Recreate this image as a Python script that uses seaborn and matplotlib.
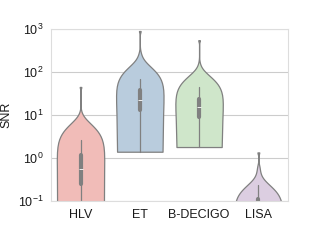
import matplotlib
matplotlib.use("Agg")
import matplotlib.pyplot as plt
import seaborn as sns
import pandas as pd

detectors = ['HLV', 'ET', 'B-DECIGO', 'LISA']

snr_hlv = [0.01, 0.03, 0.05, 0.07, 0.09, 0.12, 0.15, 0.2, 0.25,
           0.29, 0.33, 0.37, 0.41, 0.45, 0.49, 0.52, 0.55,
           0.6, 0.66, 0.72, 0.8, 0.88, 0.96, 1.08, 1.2,
           1.4, 1.65, 2.0, 2.6, 3.5, 5, 8, 45]
snr_et = [1.4, 2.5, 4, 5.5, 7, 8.5, 10, 11.5, 13,
          14, 15, 16, 17, 18, 19.5, 21, 22,
          23.5, 25, 26.5, 28, 30, 32, 35, 38,
          42, 47, 55, 70, 110, 160, 230, 900]
snr_bdecigo = [1.8, 2.5, 3.3, 4.2, 5.2, 6.2, 7.2, 8.1, 9,
               9.8, 10.6, 11.4, 12.2, 13, 13.7, 14.4, 15,
               16, 17, 18, 19, 20, 21, 22.5, 24,
               26.5, 29, 33, 38, 45, 70, 120, 550]
snr_lisa = [0.001, 0.002, 0.003, 0.005, 0.007, 0.009, 0.012, 0.015, 0.018,
            0.022, 0.026, 0.03, 0.035, 0.04, 0.045, 0.05, 0.055,
            0.06, 0.066, 0.072, 0.078, 0.085, 0.092, 0.1, 0.11,
            0.13, 0.15, 0.19, 0.23, 0.3, 0.42, 0.6, 1.35]

samples = [snr_hlv, snr_et, snr_bdecigo, snr_lisa]
df = pd.DataFrame({
    'Detector': [d for d, s in zip(detectors, samples) for _ in s],
    'SNR': [v for s in samples for v in s],
})

sns.set_style('whitegrid')
plt.rcParams['font.family'] = ['Liberation Sans', 'DejaVu Sans']

fig = plt.figure(figsize=(3.2, 2.4), dpi=100)
ax = fig.add_axes([0.159, 0.1625, 0.741, 0.7165])
sns.violinplot(data=df, x='Detector', y='SNR', hue='Detector', order=detectors,
               palette='Pastel1', legend=False, cut=0, density_norm='width',
               inner='box', linecolor='#808080', linewidth=0.9,
               inner_kws=dict(box_width=3, whis_width=0.9, marker='_', markersize=3),
               ax=ax)
ax.set_yscale('log')
ax.set_ylim(0.1, 1000)
ax.set_xlabel('')
ax.set_ylabel('SNR', fontsize=9, color='#1a1a1a')
ax.tick_params(labelsize=9, pad=2, labelcolor='#1a1a1a')
for s in ax.spines.values():
    s.set_color('#dddddd')
fig.savefig('out.png', dpi=100)
